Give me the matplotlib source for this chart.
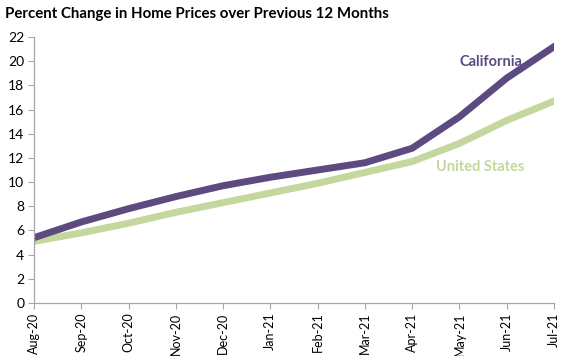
import matplotlib.pyplot as plt

months = ["Aug-20", "Sep-20", "Oct-20", "Nov-20", "Dec-20", "Jan-21",
          "Feb-21", "Mar-21", "Apr-21", "May-21", "Jun-21", "Jul-21"]
california = [5.4, 6.7, 7.8, 8.8, 9.7, 10.4, 11.0, 11.6, 12.8, 15.4, 18.6, 21.2]
united_states = [5.1, 5.8, 6.6, 7.5, 8.3, 9.1, 9.9, 10.8, 11.7, 13.2, 15.1, 16.7]

purple = "#5c4a80"
green = "#c4d79c"
gray = "#a6a6a6"

plt.rcParams["font.family"] = ["Lato", "DejaVu Sans"]

fig = plt.figure(figsize=(5.65, 3.56), dpi=100)
ax = fig.add_axes([34 / 565, 1 - 303 / 356, 520 / 565, 266 / 356])

x = range(len(months))
ax.plot(x, united_states, color=green, lw=5, solid_joinstyle="round")
ax.plot(x, california, color=purple, lw=5, solid_joinstyle="round")

ax.set_xlim(0, len(months) - 1)
ax.set_ylim(0, 22)
ax.set_yticks(range(0, 23, 2))
ax.set_xticks(list(x))
ax.set_xticklabels(months, rotation=90, fontsize=9)
ax.tick_params(axis="y", labelsize=10)
ax.tick_params(colors=gray, labelcolor="black", length=4, width=0.8, pad=3)
for side in ["top", "right"]:
    ax.spines[side].set_visible(False)
for side in ["left", "bottom"]:
    ax.spines[side].set_color(gray)
    ax.spines[side].set_linewidth(0.9)

# series labels placed beside the lines, as in the source
ax.text(9.0, 19.9, "California", color=purple, fontsize=10.5,
        fontweight="bold", ha="left", va="center")
ax.text(8.5, 11.25, "United States", color=green, fontsize=10.5,
        fontweight="bold", ha="left", va="center")

fig.text(5 / 565, 1 - 14 / 356, "Percent Change in Home Prices over Previous 12 Months",
         fontsize=10.8, fontweight="bold", ha="left", va="center")

fig.savefig("out.png", dpi=100)
